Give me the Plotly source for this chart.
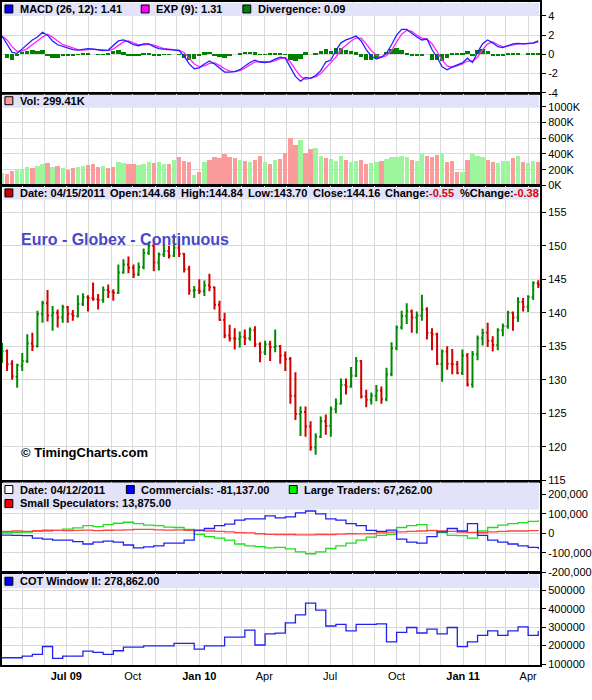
import pandas as pd
import plotly.graph_objects as go

# ---- data (weekly) ----
week_start, week_end = "2009-04-03", "2011-04-15"

price_open = [133.0, 134.3, 132.4, 130.4, 132.1, 132.8, 135.4, 135.0, 139.8, 141.4,
              139.6, 140.0, 139.3, 140.8, 139.8, 139.5, 141.3, 142.3, 142.2, 142.0,
              141.9, 143.4, 143.1, 143.0, 146.0, 147.2, 146.7, 145.7, 146.8, 148.9,
              150.0, 147.5, 148.7, 149.2, 148.5, 149.7, 148.8, 146.5, 143.3,
              143.3, 143.2, 144.1, 143.8, 141.2, 138.9, 136.6, 136.2, 136.1, 136.4,
              136.2, 137.4, 135.3, 134.1, 135.3, 134.9, 135.0, 133.6, 133.1, 127.6,
              124.9, 125.2, 123.0, 119.9, 121.5, 123.8, 123.1, 125.6, 126.4, 129.2,
              129.0, 130.6, 132.8, 127.5, 127.0, 127.6, 128.4, 127.1, 130.8, 134.7,
              137.8, 139.5, 140.2, 139.3, 139.6, 140.5, 137.0, 136.8, 132.4, 134.2,
              132.4, 132.3, 131.0,
              133.6, 129.3, 133.8, 136.2, 137.0, 135.8, 135.2, 137.4, 138.0, 140.0,
              139.3, 141.6, 140.9, 142.3, 144.4]
price_high = [135.5, 134.5, 132.9, 132.4, 134.0, 136.8, 137.0, 140.3, 141.8, 143.4,
              141.0, 140.5, 141.2, 141.0, 140.4, 142.6, 142.9, 142.6, 144.5, 142.8,
              143.9, 144.2, 143.5, 147.2, 148.0, 148.4, 147.2, 147.5, 149.6, 150.6,
              150.4, 149.0, 150.3, 150.0, 151.3, 151.3, 148.9, 147.0, 144.0,
              145.0, 144.8, 145.8, 143.9, 141.8, 140.0, 138.2, 137.7, 137.2, 137.5,
              137.8, 138.0, 135.6, 135.8, 135.8, 137.5, 135.2, 134.2, 133.4, 131.1,
              126.0, 126.0, 123.8, 122.0, 124.5, 124.8, 126.0, 127.2, 130.2, 130.2,
              131.9, 133.4, 132.9, 128.5, 128.1, 129.2, 129.0, 131.8, 135.6, 138.1,
              140.3, 141.4, 140.5, 140.2, 142.7, 140.8, 137.7, 137.0, 134.5, 135.0,
              134.6, 132.8, 134.5,
              134.0, 134.3, 136.6, 137.6, 138.5, 136.5, 137.7, 138.4, 140.3, 140.2,
              142.3, 142.2, 142.6, 144.7, 144.84]
price_low = [132.5, 131.3, 130.0, 128.8, 131.3, 132.5, 134.3, 134.8, 138.5, 138.7,
             137.3, 137.8, 138.5, 138.5, 138.8, 139.3, 141.0, 140.2, 141.8, 140.5,
             141.5, 142.2, 141.8, 142.8, 145.8, 145.9, 145.2, 145.5, 146.5, 148.6,
             146.2, 146.3, 148.3, 148.1, 148.3, 148.3, 146.0, 142.7, 142.2,
             142.8, 142.5, 143.2, 140.5, 138.8, 136.2, 135.7, 134.5, 134.8, 135.2,
             135.8, 134.9, 132.6, 133.7, 132.8, 134.1, 132.4, 131.3, 126.4, 124.0,
             121.6, 121.5, 119.4, 118.8, 121.3, 121.8, 121.5, 125.0, 126.3, 127.8,
             128.8, 130.4, 127.2, 125.9, 126.3, 126.8, 126.4, 126.8, 130.5, 134.4,
             137.5, 138.3, 137.0, 136.9, 138.8, 136.0, 134.4, 132.2, 129.7, 131.5,
             130.8, 130.8, 130.7,
             129.0, 128.8, 132.9, 135.1, 134.9, 134.2, 134.4, 136.5, 137.6, 137.3,
             138.6, 140.2, 140.1, 141.9, 143.7]
price_close = [134.3, 132.3, 130.5, 132.2, 132.8, 135.4, 135.0, 139.8, 141.4, 139.6,
               140.0, 139.3, 140.8, 139.8, 139.5, 141.3, 142.3, 142.2, 142.0, 141.9,
               143.4, 143.1, 143.0, 146.0, 147.2, 146.7, 145.7, 146.8, 148.9, 150.0,
               147.5, 148.7, 149.2, 148.5, 149.7, 148.8, 146.5, 143.3, 143.4,
               143.2, 144.1, 143.8, 141.2, 138.9, 136.6, 136.2, 136.1, 136.4, 136.2,
               137.4, 135.3, 134.1, 135.3, 134.9, 135.0, 133.6, 133.1, 127.6, 124.9,
               125.2, 123.0, 119.9, 121.5, 123.8, 123.1, 125.6, 126.4, 129.2, 129.0,
               130.6, 132.8, 127.5, 127.0, 127.6, 128.4, 127.1, 130.8, 134.7, 137.8,
               139.5, 140.2, 139.3, 139.6, 140.5, 137.0, 136.8, 132.4, 134.2, 132.4,
               132.3, 131.0, 133.6,
               129.3, 133.8, 136.2, 137.0, 135.8, 135.2, 137.4, 138.0, 140.0, 139.3,
               141.6, 140.9, 142.3, 144.4, 144.16]

volume_k = [160, 150, 190, 200, 210, 240, 230, 250, 280, 290, 240, 250, 220,
            200, 230, 240, 250, 260, 270, 240, 250, 230, 240, 300, 290, 280,
            280, 260, 270, 300, 290, 300, 280, 270, 330, 360, 320, 300, 130,
            180, 300, 330, 360, 350, 400, 370, 350, 330, 310, 300, 330, 380,
            300, 270, 330, 340, 420, 600, 520, 580, 420, 470, 480, 380, 350,
            340, 310, 380, 330, 300, 320, 330, 280, 290, 300, 310, 340, 360,
            360, 380, 360, 330, 320, 400, 380, 360, 390, 410, 300, 320, 180, 170,
            330, 400, 380, 360, 330, 300, 290, 310, 320, 350, 380, 300,
            290, 320, 299.41]

macd = [1.9, 1.1, 0.2, 0.1, 0.6, 1.0, 1.5, 1.8, 2.3, 2.0,
        1.4, 1.0, 0.85, 0.7, 0.5, 0.45, 0.5, 0.6, 0.55, 0.45,
        0.4, 0.45, 0.9, 1.4, 1.5, 1.3, 1.0, 0.9, 1.1, 1.1,
        0.8, 0.6, 0.55, 0.5, 0.5, 0.4, -0.2, -1.0, -1.5, -1.4,
        -1.0, -0.7, -1.0, -1.4, -1.85, -1.85, -1.8, -1.6, -1.2, -0.85,
        -0.6, -0.8, -0.85, -0.75, -0.5, -0.3, -0.4, -1.4, -2.3, -2.8,
        -2.4, -2.5, -2.2, -1.7, -0.8, -0.6, 0.4, 1.2, 1.5, 1.7,
        1.9, 1.4, 0.5, -0.2, -0.5, -0.3, 0.1, 1.0, 2.0, 2.6,
        2.6, 2.2, 1.8, 1.5, 1.6, 0.5, -0.3, -1.3, -1.6, -1.3,
        -1.1, -0.9, -0.4, -0.85, 0.2, 1.1, 1.5, 1.2, 0.8, 0.7,
        0.9, 1.1, 1.15, 1.1, 1.15, 1.2, 1.41]
exp9 = [1.9, 1.5, 0.8, 0.3, 0.35, 0.6, 1.0, 1.4, 1.8, 2.1,
        1.8, 1.4, 1.0, 0.85, 0.65, 0.5, 0.45, 0.5, 0.55, 0.5,
        0.45, 0.4, 0.55, 0.9, 1.3, 1.4, 1.2, 1.0, 1.0, 1.05,
        0.95, 0.75, 0.6, 0.55, 0.5, 0.45, 0.2, -0.4, -1.0, -1.3,
        -1.2, -0.95, -0.9, -1.15, -1.5, -1.75, -1.8, -1.7, -1.45, -1.1,
        -0.8, -0.75, -0.8, -0.8, -0.65, -0.45, -0.35, -0.8, -1.6, -2.3,
        -2.6, -2.5, -2.35, -2.0, -1.4, -0.9, -0.3, 0.5, 1.0, 1.4,
        1.7, 1.7, 1.1, 0.4, -0.1, -0.3, -0.15, 0.4, 1.3, 2.1,
        2.5, 2.4, 2.0, 1.7, 1.6, 1.1, 0.3, -0.6, -1.2, -1.35,
        -1.2, -1.0, -0.7, -0.7, -0.3, 0.5, 1.1, 1.3, 1.0, 0.8,
        0.85, 1.0, 1.1, 1.1, 1.1, 1.15, 1.31]
divergence = [0.0, -0.4, -0.6, -0.2, 0.25, 0.4, 0.5, 0.4, 0.5, -0.1,
              -0.4, -0.4, -0.15, -0.15, -0.15, -0.05, 0.05, 0.1, 0.0, -0.05,
              -0.05, 0.05, 0.35, 0.5, 0.2, -0.1, -0.2, -0.1, 0.1, 0.05,
              -0.15, -0.15, -0.05, -0.05, 0.0, -0.05, -0.4, -0.6, -0.5, -0.1,
              0.2, 0.25, -0.1, -0.25, -0.35, -0.1, 0.0, 0.1, 0.25, 0.25,
              0.2, -0.05, -0.05, 0.05, 0.15, 0.15, -0.05, -0.6, -0.7, -0.5,
              0.2, 0.0, 0.15, 0.3, 0.6, 0.3, 0.7, 0.7, 0.5, 0.3,
              0.2, -0.3, -0.6, -0.6, -0.4, 0.0, 0.25, 0.6, 0.7, 0.5,
              0.1, -0.2, -0.2, -0.2, 0.0, -0.6, -0.6, -0.7, -0.4, 0.05,
              0.1, 0.1, 0.3, -0.1, 0.5, 0.6, 0.4, -0.1, -0.2, -0.1,
              0.05, 0.1, 0.05, 0.0, 0.05, 0.05, 0.09]

# COT, every second week, thousands of contracts
commercials = [-9, -10, -12, -25, -30, -35, -35, -43, -55, -45,
               -40, -45, -60, -75, -70, -65, -50, -50, -35, 17,
               25, 40, 47, 68, 75, 75, 90, 80, 85, 105,
               115, 100, 75, 68, 50, 40, 15, 10, 17, -30,
               -45, -50, -17, 8, 25, 12, 50, -10, -35, -45,
               -55, -65, -72, -81.137]
large_traders = [3, 5, 6, 10, 12, 15, 22, 28, 40, 35,
                 45, 52, 57, 50, 42, 40, 32, 30, 20, -5,
                 -17, -25, -35, -55, -65, -68, -75, -72, -80, -95,
                 -105, -95, -78, -65, -50, -35, -20, -10, -5, 30,
                 40, 45, 15, 5, -10, -12, -25, 12, 30, 42,
                 50, 55, 62, 67.262]
small_specs = [10, 12, 10, 14, 16, 15, 14, 15, 17, 14,
               16, 17, 18, 20, 20, 18, 17, 18, 16, 14,
               12, 10, 8, 4, 2, -2, -5, -6, -6, -8,
               -8, -6, -6, -4, -2, -3, -2, 2, 6, 8,
               10, 12, 14, 12, 10, 6, 5, 3, 8, 10,
               12, 12, 14, 13.875]
cot_window2 = [134, 134, 143, 152, 195, 130, 143, 143, 170, 163,
               152, 172, 191, 191, 198, 198, 198, 212, 212, 181,
               198, 198, 246, 246, 284, 203, 263, 267, 323, 366,
               430, 392, 306, 315, 280, 315, 315, 318, 220, 272,
               298, 268, 289, 263, 298, 194, 220, 255, 280, 255,
               280, 301, 255, 278.862]

month_labels = ["", "", "Jul 09", "", "", "Oct", "", "", "Jan 10", "", "", "Apr",
                "", "", "Jul", "", "", "Oct", "", "", "Jan 11", "", "", "Apr"]

# ---- layout helpers ----
W, H = 592, 700
ML, MR, MT, MB = 1, 46, 0, 35
PW, PH = W - ML - MR, H - MT - MB
FONT = "Liberation Sans, Arial, Helvetica, sans-serif"
GRID = "#d9d9d9"
BAND = "#e2e2f9"


def fx(px):
    return (px - ML) / PW


def fy(py):
    return (MT + PH - py) / PH


weeks = pd.date_range(week_start, week_end, freq="7D")
cot_weeks = pd.date_range(week_start, week_end, freq="14D")
months = pd.date_range("2009-05-01", "2011-04-01", freq="MS")
xticktext = ["<b>%s</b>" % t if " " in t else t for t in month_labels]
day_ms = 86400000

fig = go.Figure()

# MACD panel
fig.add_trace(go.Bar(x=weeks, y=divergence, marker_color="#008000", marker_line_width=0,
                     width=6 * day_ms, xaxis="x", yaxis="y"))
fig.add_trace(go.Scatter(x=weeks, y=exp9, mode="lines", line=dict(color="#ff22ff", width=1.3),
                         xaxis="x", yaxis="y"))
fig.add_trace(go.Scatter(x=weeks, y=macd, mode="lines", line=dict(color="#2222ff", width=1.3),
                         xaxis="x", yaxis="y"))

# volume panel
vol_colors = ["#9df59d" if c >= o else "#fa9c9c" for o, c in zip(price_open, price_close)]
fig.add_trace(go.Bar(x=weeks, y=volume_k, marker_color=vol_colors, marker_line_width=0,
                     width=6 * day_ms, xaxis="x2", yaxis="y2"))

# price panel
fig.add_trace(go.Ohlc(x=weeks, open=price_open, high=price_high, low=price_low, close=price_close,
                      increasing=dict(line=dict(color="#008a00", width=2)),
                      decreasing=dict(line=dict(color="#d20000", width=2)),
                      tickwidth=0.3, xaxis="x3", yaxis="y3"))

# COT panel
for vals, col in [(large_traders, "#22dd22"), (small_specs, "#ff4444"), (commercials, "#2222ee")]:
    fig.add_trace(go.Scatter(x=cot_weeks, y=vals, mode="lines", line_shape="hv",
                             line=dict(color=col, width=1.3), xaxis="x4", yaxis="y4"))

# COT window II panel
fig.add_trace(go.Scatter(x=cot_weeks, y=cot_window2, mode="lines", line_shape="hv",
                         line=dict(color="#2222ee", width=1.3), xaxis="x5", yaxis="y5"))

# panels: (top px, bottom px, range, tickvals, ticktext, band bottom px)
panels = [
    (0, 91, [-4, 5.455], [-4, -2, 0, 2, 4], ["-4", "-2", "0", "2", "4"], 14),
    (92, 184, [0, 1165], [0, 200, 400, 600, 800, 1000],
     ["0K", "200K", "400K", "600K", "800K", "1000K"], 106),
    (185, 480, [114.95, 158.85], [115, 120, 125, 130, 135, 140, 145, 150, 155],
     ["115", "120", "125", "130", "135", "140", "145", "150", "155"], 198),
    (481, 572, [-200.5, 266.7], [-200, -100, 0, 100, 200],
     ["-200,000", "-100,000", "0", "100,000", "200,000"], 509),
    (573, 665, [94.6, 591.9], [100, 200, 300, 400, 500],
     ["100000", "200000", "300000", "400000", "500000"], 588),
]

layout = dict(width=W, height=H, margin=dict(l=ML, r=MR, t=MT, b=MB, pad=0),
              plot_bgcolor="white", paper_bgcolor="white", showlegend=False,
              font=dict(family=FONT, size=11, color="black"), bargap=0)
shapes = []
for i, (top, bot, rng, tv, tt, band_bot) in enumerate(panels, start=1):
    sfx = "" if i == 1 else str(i)
    layout["xaxis" + sfx] = dict(
        domain=[0, 1], anchor="y" + sfx, range=["2009-04-03", "2011-04-17 10:00"],
        tickvals=months, ticktext=xticktext, showticklabels=(i == 5),
        showgrid=True, gridcolor=GRID, gridwidth=1, showline=True, mirror=True,
        linecolor="black", linewidth=2, ticks="", rangeslider=dict(visible=False),
        tickfont=dict(size=11), zeroline=False)
    layout["yaxis" + sfx] = dict(
        domain=[fy(bot), fy(top)], anchor="x" + sfx, side="right", range=rng,
        tickvals=tv, ticktext=tt, showgrid=True, gridcolor=GRID, gridwidth=1,
        showline=True, mirror=True, linecolor="black", linewidth=2,
        ticks="outside", ticklen=4, tickcolor="black", zeroline=False,
        tickfont=dict(size=11))
    shapes.append(dict(type="rect", xref="paper", yref="paper", layer="above",
                       x0=fx(2), x1=fx(545), y0=fy(band_bot), y1=fy(top + 1),
                       fillcolor=BAND, line_width=0))

annotations = []


def legend_item(px, py, color, text):
    shapes.append(dict(type="rect", xref="paper", yref="paper", layer="above",
                       x0=fx(px), x1=fx(px + 8), y0=fy(py + 4), y1=fy(py - 4),
                       fillcolor=color, line=dict(color="black", width=1)))
    annotations.append(dict(x=fx(px + 13), y=fy(py), xref="paper", yref="paper",
                            xanchor="left", yanchor="middle", showarrow=False,
                            text="<b>%s</b>" % text, font=dict(size=11, color="black")))


def label(px, py, text):
    annotations.append(dict(x=fx(px), y=fy(py), xref="paper", yref="paper",
                            xanchor="left", yanchor="middle", showarrow=False,
                            text="<b>%s</b>" % text, font=dict(size=11, color="black")))


legend_item(4, 7, "#0000ff", "MACD (26, 12): 1.41")
legend_item(142, 7, "#ff00ff", "EXP (9): 1.31")
legend_item(245, 7, "#008000", "Divergence: 0.09")
legend_item(4, 99, "#ff9999", "Vol: 299.41K")
legend_item(4, 191.5, "#cc0000", "Date: 04/15/2011")
label(108, 191.5, "Open:144.68")
label(180, 191.5, "High:144.84")
label(248, 191.5, "Low:143.70")
label(314, 191.5, "Close:144.16")
label(387, 191.5, "Change:<span style='color:#dd0000'>-0.55</span>")
label(463, 191.5, "%Change:<span style='color:#dd0000'>-0.38</span>")
legend_item(4, 489, "white", "Date: 04/12/2011")
legend_item(127, 489, "#0000ff", "Commercials: -81,137.00")
legend_item(292, 489, "#00ee00", "Large Traders: 67,262.00")
legend_item(4, 503, "#ee0000", "Small Speculators: 13,875.00")
legend_item(4, 581, "#0000ff", "COT Window II: 278,862.00")

annotations.append(dict(x=fx(18), y=fy(238), xref="paper", yref="paper", xanchor="left",
                        yanchor="middle", showarrow=False,
                        text="<b>Euro - Globex - Continuous</b>",
                        font=dict(size=16, color="#4848c8")))
annotations.append(dict(x=fx(18), y=fy(452), xref="paper", yref="paper", xanchor="left",
                        yanchor="middle", showarrow=False, text="<b>© TimingCharts.com</b>",
                        font=dict(size=13, color="black")))

layout["shapes"] = shapes
layout["annotations"] = annotations
fig.update_layout(**layout)

fig.write_html("out.html", config={"displayModeBar": False},
               post_script="document.body.style.margin='0';")
